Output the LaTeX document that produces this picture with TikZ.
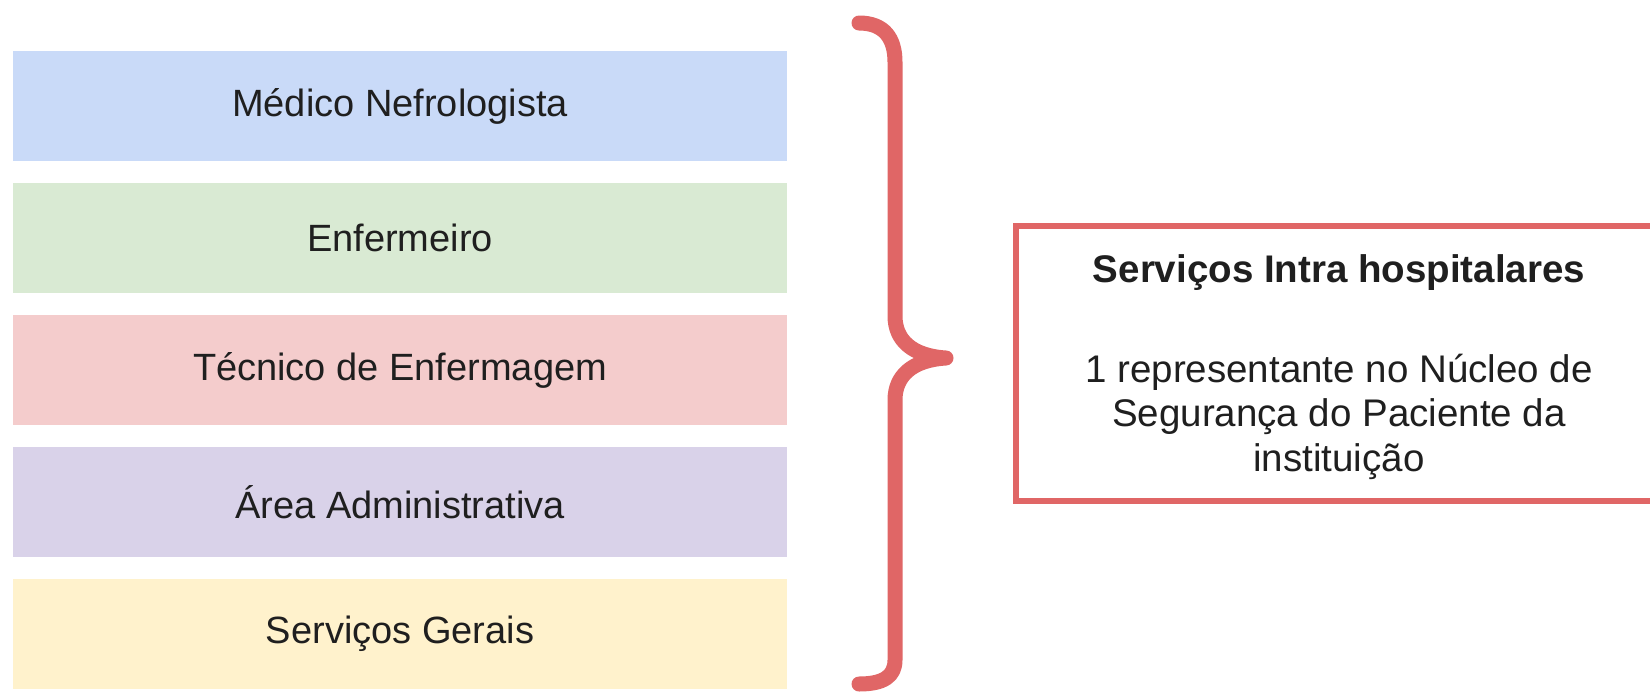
\documentclass[tikz,border=0pt]{standalone}
\usepackage{fontspec}
\setmainfont{Liberation Sans}
\usepackage{tikz}
\definecolor{barblue}{HTML}{C9DAF8}
\definecolor{bargreen}{HTML}{D9EAD3}
\definecolor{barpink}{HTML}{F4CCCC}
\definecolor{barpurple}{HTML}{D9D2E9}
\definecolor{baryellow}{HTML}{FFF2CC}
\definecolor{bracered}{HTML}{E06666}
\begin{document}
\begin{tikzpicture}[x=1pt, y=-1pt,
	bar/.style={rectangle, minimum width=774pt, minimum height=110pt, inner sep=0pt, text=black!88, font=\fontsize{38}{44}\selectfont},
	infobox/.style={rectangle, draw=bracered, line width=6pt, minimum width=646pt, minimum height=275pt, align=center, text=black!88, font=\fontsize{38.5}{44.5}\selectfont}]
			%%%%% START %%%%%
			
			\useasboundingbox[fill=white] (0, 0) rectangle (1650, 694);
			
			\node[bar, fill=barblue] (medico) at (400, 106) {Médico Nefrologista};
			\node[bar, fill=bargreen] (enfermeiro) at (400, 238) {Enfermeiro};
			\node[bar, fill=barpink] (tecnico) at (400, 370) {Técnico de Enfermagem};
			\node[bar, fill=barpurple] (admin) at (400, 502) {Área Administrativa};
			\node[bar, fill=baryellow] (gerais) at (400, 634) {Serviços Gerais};
			
			\coordinate (chave) at (946, 358);
			\draw[line width=15pt, color=bracered, line cap=round, line join=round]
				(859, 23) .. controls (884, 23) and (895, 38) .. (895, 62) -- (895, 316)
				.. controls (895, 340) and (912, 356) .. (chave)
				.. controls (912, 360) and (895, 376) .. (895, 400) -- (895, 660)
				.. controls (895, 676) and (884, 684) .. (859, 684);
			
			\node[infobox] (servicos) at (1339, 363) {\rule{0pt}{36pt}{\bfseries Serviços Intra hospitalares}\\[55pt]1 representante no Núcleo de\\Segurança do Paciente da\\instituição};
			
			%%%%% END %%%%%
		\end{tikzpicture}
\end{document}
